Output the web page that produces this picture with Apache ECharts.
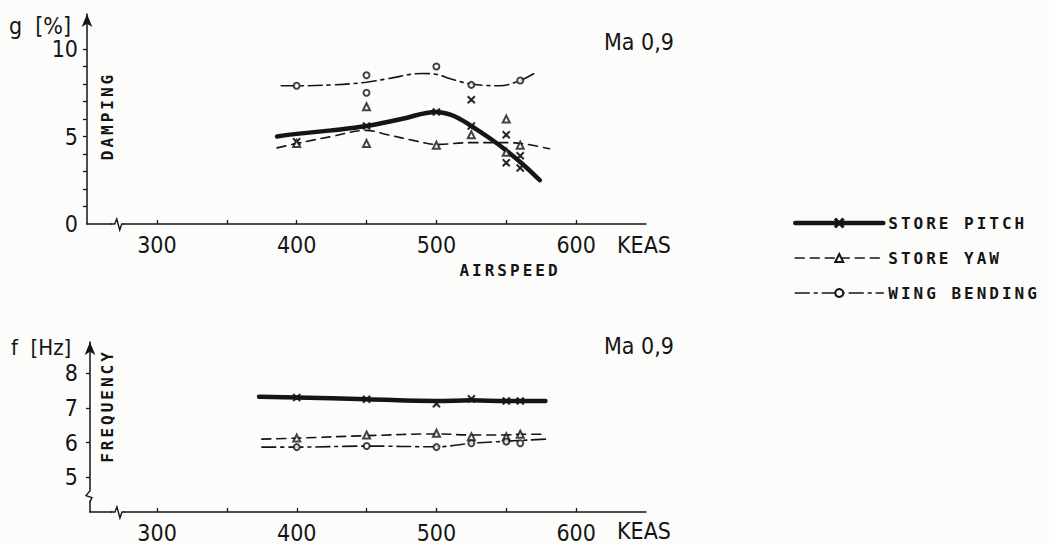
<!DOCTYPE html>
<html>
<head>
<meta charset="utf-8">
<script src="https://cdn.jsdelivr.net/npm/echarts@6/dist/echarts.min.js"></script>
<style>
html,body{margin:0;padding:0;background:#fcfcfa;}
#c{width:1049px;height:544px;}
#c text[style*="Mono"]{letter-spacing:3px;}
</style>
</head>
<body>
<div id="c"></div>
<script>
// ---------- DATA ----------
// Damping (top panel): fitted curves  [KEAS, g %]
const dampPitchCurve = [[386,5.0],[400,5.15],[425,5.35],[450,5.6],[475,6.0],[500,6.4],[510,6.25],[518,5.95],[525,5.6],[540,4.8],[550,4.2],[562,3.4],[574,2.5]];
const dampYawCurve   = [[386,4.35],[400,4.6],[425,5.0],[450,5.35],[465,5.1],[485,4.75],[500,4.55],[525,4.65],[550,4.65],[565,4.55],[581,4.3]];
const dampBendCurve  = [[389,7.9],[400,7.9],[425,7.95],[450,8.1],[465,8.3],[490,8.6],[500,8.55],[510,8.3],[525,8.0],[545,7.9],[560,8.2],[571,8.65]];
// Damping measured points
const dampPitchPts = [[400,4.7],[450,5.6],[500,6.4],[525,7.1],[525,5.6],[550,5.1],[550,3.5],[560,3.9],[560,3.2]];
const dampYawPts   = [[400,4.6],[450,6.7],[450,4.6],[500,4.5],[525,5.1],[550,6.0],[550,4.1],[560,4.5]];
const dampBendPts  = [[400,7.9],[450,8.5],[450,7.5],[500,9.0],[525,7.95],[560,8.2]];
// Frequency (bottom panel): fitted curves [KEAS, f Hz]
const freqPitchCurve = [[373,7.32],[400,7.3],[450,7.25],[500,7.2],[525,7.22],[550,7.2],[578,7.2]];
const freqYawCurve   = [[375,6.1],[400,6.13],[450,6.2],[500,6.25],[525,6.22],[550,6.22],[560,6.24],[578,6.24]];
const freqBendCurve  = [[375,5.87],[400,5.87],[450,5.9],[500,5.88],[525,5.98],[550,6.04],[578,6.1]];
// Frequency measured points
const freqPitchPts = [[400,7.3],[450,7.25],[500,7.12],[525,7.26],[550,7.2],[560,7.2]];
const freqYawPts   = [[400,6.13],[450,6.22],[500,6.27],[525,6.17],[550,6.17],[560,6.24]];
const freqBendPts  = [[400,5.87],[450,5.9],[500,5.87],[525,5.98],[550,6.03],[560,5.98]];
// Ticks / labels
const xTicks = [300,350,400,450,500,550,600];
const xLabels = [300,400,500,600];
const gTicks = [1,2,3,4,5,6,7,8,9,10];
const gLabels = [0,5,10];
const fTicks = [5,6,7,8];
const fLabels = [5,6,7,8];
const seriesNames = ['STORE PITCH','STORE YAW','WING BENDING'];

// ---------- STYLE ----------
const INK = '#151515';
const BG = '#fcfcfa';
const numFont = '"Liberation Sans Narrow","DejaVu Sans Condensed","Liberation Sans",sans-serif';
const plotFont = '"DejaVu Sans Mono",monospace';
const xSym = 'path://M0,1L1,0L5,4L9,0L10,1L6,5L10,9L9,10L5,6L1,10L0,9L4,5Z';

const styles = [
  {lw:4.5, type:'solid', sym:xSym, size:7},
  {lw:1.6, type:[9,6], sym:'emptyTriangle', size:7},
  {lw:1.6, type:[14,5,3,5], sym:'emptyCircle', size:6}
];

function lineSeries(name, data, i, grid){
  const s = styles[i];
  return {type:'line', name:name, xAxisIndex:grid, yAxisIndex:grid, data:data,
    smooth:0.4, symbol:s.sym, symbolSize:s.size, showSymbol:false,
    lineStyle:{color:INK, width:s.lw, type:s.type, cap:'round'},
    itemStyle:{color:INK, borderColor:INK, borderWidth:1.3}, silent:true, z:2};
}
function ptSeries(data, i, grid){
  const s = styles[i];
  return {type:'scatter', name:'pts'+i+grid, xAxisIndex:grid, yAxisIndex:grid, data:data,
    symbol:s.sym, symbolSize:s.size,
    itemStyle:{color:INK, borderColor:INK, borderWidth:1.2}, silent:true, z:3};
}

function xAxis(grid, min){
  return {type:'value', gridIndex:grid, min:min, max:650,
    axisLine:{show:true, lineStyle:{color:INK, width:1.5}},
    axisTick:{show:true, inside:true, length:4, customValues:xTicks, lineStyle:{color:INK, width:1.3}},
    axisLabel:{customValues:xLabels, color:INK, fontFamily:numFont, fontSize:23, margin:9},
    splitLine:{show:false}};
}

const chart = echarts.init(document.getElementById('c'), null, {renderer:'svg'});
const option = {
  backgroundColor:BG,
  animation:false,
  grid:[
    {left:87, top:14, width:559, height:210},
    {left:90, top:342, width:556, height:170}
  ],
  xAxis:[xAxis(0,250), xAxis(1,252)],
  yAxis:[
    {type:'value', gridIndex:0, min:0, max:12,
      axisLine:{show:true, symbol:['none','arrow'], symbolSize:[8,13], lineStyle:{color:INK, width:1.5}},
      axisTick:{show:true, length:4, customValues:gTicks, lineStyle:{color:INK, width:1.3}},
      axisLabel:{customValues:gLabels, color:INK, fontFamily:numFont, fontSize:23, margin:9, padding:[4,0,0,0]},
      splitLine:{show:false}},
    {type:'value', gridIndex:1, min:4, max:8.9,
      axisLine:{show:true, symbol:['none','arrow'], symbolSize:[8,13], lineStyle:{color:INK, width:1.5}},
      axisTick:{show:true, length:4, customValues:fTicks, lineStyle:{color:INK, width:1.3}},
      axisLabel:{customValues:fLabels, color:INK, fontFamily:numFont, fontSize:23, margin:12, padding:[4,0,0,0]},
      splitLine:{show:false}}
  ],
  legend:{
    data:seriesNames, orient:'vertical', left:788, top:210,
    itemWidth:88, itemHeight:10, itemGap:19,
    lineStyle:{width:'inherit'},
    textStyle:{color:INK, fontFamily:plotFont, fontWeight:'bold', fontSize:16},
    selectedMode:false
  },
  series:[
    lineSeries(seriesNames[0], dampPitchCurve, 0, 0),
    lineSeries(seriesNames[1], dampYawCurve, 1, 0),
    lineSeries(seriesNames[2], dampBendCurve, 2, 0),
    ptSeries(dampPitchPts, 0, 0),
    ptSeries(dampYawPts, 1, 0),
    ptSeries(dampBendPts, 2, 0),
    lineSeries(seriesNames[0], freqPitchCurve, 0, 1),
    lineSeries(seriesNames[1], freqYawCurve, 1, 1),
    lineSeries(seriesNames[2], freqBendCurve, 2, 1),
    ptSeries(freqPitchPts, 0, 1),
    ptSeries(freqYawPts, 1, 1),
    ptSeries(freqBendPts, 2, 1)
  ]
};
chart.setOption(option);

// ---------- annotations & axis breaks ----------
function px(grid, v){ return chart.convertToPixel({gridIndex:grid}, v); }
function xBreak(grid, xv, yv){
  const p = px(grid, [xv, yv]);
  const x = p[0], y = p[1];
  return [
    {type:'rect', shape:{x:x-6, y:y-2, width:12, height:4}, style:{fill:BG}, z:50},
    {type:'polyline', shape:{points:[[x-7,y],[x-3,y],[x-1,y-5],[x+2,y+6],[x+4,y],[x+7,y]]},
      style:{stroke:INK, lineWidth:1.4, fill:null}, z:51}
  ];
}
function yBreak(grid, xv, yv){
  const p = px(grid, [xv, yv]);
  const x = p[0], y = p[1];
  return [
    {type:'rect', shape:{x:x-2, y:y-6, width:4, height:12}, style:{fill:BG}, z:50},
    {type:'polyline', shape:{points:[[x,y-7],[x,y-4],[x-4,y+1],[x+2,y+3],[x,y+7]]},
      style:{stroke:INK, lineWidth:1.4, fill:null}, z:51}
  ];
}
function txt(x, y, s, opt){
  return Object.assign({type:'text', x:x, y:y, z:60,
    style:Object.assign({text:s, fill:INK, fontFamily:numFont, fontSize:23, align:'left', verticalAlign:'middle'}, opt||{})});
}
const plotStyle = {fontFamily:plotFont, fontWeight:'bold', fontSize:16, align:'center'};
const graphics = [].concat(
  xBreak(0, 272, 0),
  xBreak(1, 272, 4),
  yBreak(1, 252, 4.5),
  [
    txt(9, 26, 'g  [%]', {fontSize:23}),
    txt(11, 347, 'f  [Hz]', {fontSize:22}),
    txt(604, 42, 'Ma 0,9'),
    txt(604, 346, 'Ma 0,9'),
    txt(617, 245, 'KEAS'),
    txt(617, 531, 'KEAS'),
    txt(510, 270, 'AIRSPEED', plotStyle),
    Object.assign(txt(107, 116, 'DAMPING', plotStyle), {rotation:Math.PI/2}),
    Object.assign(txt(107, 406, 'FREQUENCY', plotStyle), {rotation:Math.PI/2})
  ]
);
chart.setOption({graphic:graphics});
</script>
</body>
</html>
